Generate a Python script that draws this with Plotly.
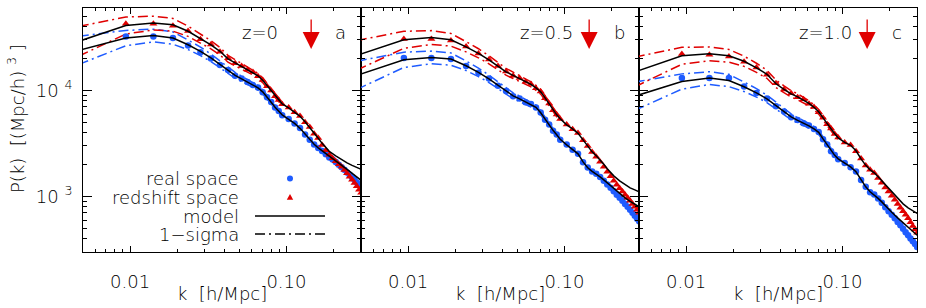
import numpy as np
import plotly.graph_objects as go

# ---------------- data ----------------
# wavenumbers of the model curves [h/Mpc]
k_model = [0.0047, 0.0094, 0.0141, 0.0188, 0.0235, 0.0282, 0.0329, 0.0376, 0.0423, 0.047,
           0.0517, 0.0564, 0.0611, 0.0658, 0.0705, 0.0752, 0.0799, 0.0846, 0.0893, 0.094,
           0.1034, 0.1128, 0.1222, 0.1316, 0.141, 0.1504, 0.1598, 0.1692, 0.1786, 0.188,
           0.2068, 0.2256, 0.2444, 0.2632, 0.282, 0.3008]
# wavenumbers of the measured points [h/Mpc]
k_pts = [0.0094, 0.0141, 0.0188, 0.0235, 0.0282, 0.0329, 0.0376, 0.0423, 0.047, 0.0517,
         0.0564, 0.0611, 0.0658, 0.0705, 0.0752, 0.0799, 0.0846, 0.0893, 0.094,
         0.1034, 0.1128, 0.1222, 0.1316, 0.141, 0.1504, 0.1598, 0.1692, 0.1786, 0.188,
         0.1974, 0.2068, 0.2162, 0.2256, 0.235, 0.2444, 0.2538, 0.2632, 0.2726, 0.282,
         0.2914, 0.3008]

# ---- panel a : z = 0 ----
a_model_real = [23950, 31220, 33030, 31220, 26990, 23440, 20340, 17670, 15510, 13910,
                12890, 12080, 11320, 10600, 9720, 8722, 7740, 6943, 6366, 5900,
                5350, 4904, 4399, 3862, 3426, 3108, 2881, 2699, 2528, 2421,
                2172, 1970, 1805, 1655, 1534, 1422]
a_model_red = [29130, 41040, 43240, 41680, 36190, 30740, 26990, 23440, 19910, 18260,
               16920, 15850, 14850, 13760, 12480, 11080, 9936, 8913, 8083, 7491,
               6868, 6298, 5710, 5067, 4498, 3948, 3541, 3176, 2881, 2670,
               2421, 2220, 2080, 1970, 1886, 1805]
a_pts_real = [32320, 32320, 31220, 26600, 23000, 20000, 17400, 15600, 13800, 12950,
              12000, 11250, 10650, 9650, 8650, 7800, 6900, 6400, 5850,
              5380, 4880, 4420, 3840, 3440, 3090, 2870, 2690, 2510, 2340,
              2230, 2120, 2000, 1890, 1786, 1690, 1602, 1520, 1438, 1360,
              1290, 1220]
a_pts_red = [42590, 42590, 40780, 36500, 30500, 27200, 23200, 20100, 18100, 17000,
             15700, 14950, 13650, 12550, 11000, 10000, 8850, 8150, 7420,
             6900, 6250, 5750, 5030, 4520, 3920, 3560, 3070, 2730, 2480,
             2303, 2150, 2021, 1910, 1778, 1655, 1541, 1438, 1341, 1248,
             1162, 1084]

# ---- panel b : z = 0.5 ----
b_model_real = [13910, 19490, 20490, 19790, 17110, 14850, 12890, 11200, 9829, 8913,
                8350, 7824, 7412, 6943, 6162, 5350, 4747, 4212, 3820, 3464,
                3074, 2788, 2528, 2125, 1866, 1729, 1638, 1534, 1438, 1347,
                1182, 1060, 972, 901, 844, 800]
b_model_red = [21480, 30080, 31620, 30080, 25840, 22440, 19490, 17110, 15010, 13910,
               13030, 12210, 11440, 10600, 9720, 8535, 7491, 6577, 5900, 5409,
               4747, 4352, 3948, 3426, 2975, 2641, 2421, 2220, 2013, 1826,
               1568, 1407, 1290, 1208, 1157, 1108]
b_pts_real = [20220, 20220, 19790, 17000, 14700, 12950, 11100, 9900, 8850, 8400,
              7750, 7450, 6900, 6200, 5300, 4780, 4180, 3840, 3440,
              3090, 2770, 2540, 2110, 1875, 1720, 1645, 1530, 1410, 1300,
              1208, 1120, 1042, 972, 911, 853, 800, 749, 702, 658,
              619, 584]
b_pts_red = [30540, 30540, 29630, 26000, 22300, 19600, 17000, 15100, 13800, 13100,
             12100, 11500, 10500, 9800, 8450, 7550, 6500, 5950, 5380,
             4780, 4320, 3970, 3400, 2990, 2630, 2370, 2130, 1910, 1710,
             1551, 1410, 1295, 1195, 1113, 1038, 972, 911, 853, 800,
             749, 702]

# ---- panel c : z = 1.0 ----
c_model_real = [8837, 12160, 13090, 12430, 10840, 9513, 8350, 7174, 6298, 5648,
                5235, 4958, 4645, 4352, 4035, 3502, 3074, 2699, 2448, 2268,
                2057, 1906, 1711, 1438, 1234, 1108, 1038, 962, 891, 817,
                710, 630, 565, 512, 470, 431]
c_model_red = [14950, 21250, 22200, 21250, 18860, 16380, 14220, 11570, 10270, 9310,
               8722, 8172, 7574, 6943, 6298, 5527, 4851, 4352, 3904, 3578,
               3247, 3042, 2699, 2268, 1970, 1786, 1673, 1534, 1407, 1290,
               1096, 951, 853, 782, 733, 694]
c_pts_real = [13090, 13090, 13090, 10900, 9450, 8400, 7100, 6350, 5600, 5260,
              4920, 4670, 4330, 4060, 3480, 3090, 2680, 2460, 2250,
              2070, 1890, 1720, 1430, 1240, 1100, 1045, 958, 872, 791,
              728, 672, 623, 577, 535, 496, 461, 431, 403, 378,
              356, 335]
c_pts_red = [22050, 21720, 20930, 18700, 16500, 14100, 11700, 10200, 9400, 8650,
             8250, 7500, 7000, 6250, 5550, 4800, 4380, 3880, 3600,
             3230, 3060, 2680, 2280, 1960, 1790, 1670, 1500, 1350, 1220,
             1113, 1015, 931, 853, 786, 725, 672, 623, 573, 529,
             490, 455]

# 1-sigma half-width (dex) of the mock scatter, for the first 20 model k values
sigma_real = [0.133, 0.072, 0.060, 0.058, 0.045, 0.040, 0.035, 0.032, 0.030, 0.028,
              0.026, 0.024, 0.022, 0.021, 0.020, 0.019, 0.018, 0.017, 0.016, 0.015]
sigma_red = [0.140, 0.080, 0.065, 0.060, 0.048, 0.043, 0.038, 0.035, 0.032, 0.030,
             0.028, 0.026, 0.024, 0.023, 0.022, 0.021, 0.020, 0.019, 0.018, 0.017]

z_labels = ["z=0", "z=0.5", "z=1.0"]
panel_letters = ["a", "b", "c"]
k_arrow = 0.144

x_tickvals = [0.01, 0.1]
x_ticktext = ["0.01", "0.10"]
y_tickvals = [1000, 10000]
y_ticktext = ["10 <sup>3</sup>", "10 <sup>4</sup>"]

# ---------------- styling ----------------
W, H = 926, 308
BLUE = "#1f5cff"
RED = "#e00000"
TXT = "#000000"
FONT = "DejaVu Sans"
FS = 18
FW = 300
DASHDOT = "10px,4px,2px,4px"

panels = [
    (a_model_real, a_model_red, a_pts_real, a_pts_red),
    (b_model_real, b_model_red, b_pts_real, b_pts_red),
    (c_model_real, c_model_red, c_pts_real, c_pts_red),
]

left_px = [83, 361, 639]
right_px = [361, 639, 917]
top_px, bot_px = 8, 252
ydom = [1 - bot_px / H, 1 - top_px / H]


def tfont(size=FS):
    return dict(family=FONT, size=size, color=TXT, weight=FW)


fig = go.Figure()

ns = len(sigma_real)
for i, (m_real, m_red, p_real, p_red) in enumerate(panels):
    xa = "x" if i == 0 else f"x{i+1}"
    ya = "y" if i == 0 else f"y{i+1}"
    ks = k_model[:ns]
    mr = np.array(m_real[:ns], float)
    md = np.array(m_red[:ns], float)
    sr = np.array(sigma_real)
    sd = np.array(sigma_red)
    for arr, col in [(mr * 10 ** sr, BLUE), (mr * 10 ** (-sr), BLUE),
                     (md * 10 ** sd, RED), (md * 10 ** (-sd), RED)]:
        fig.add_trace(go.Scatter(x=ks, y=arr, mode="lines", xaxis=xa, yaxis=ya,
                                 line=dict(color=col, width=1.5, dash=DASHDOT),
                                 showlegend=False, hoverinfo="skip"))
    fig.add_trace(go.Scatter(x=k_pts, y=p_real, mode="markers", xaxis=xa, yaxis=ya,
                             marker=dict(symbol="circle", size=6.5, color=BLUE, line=dict(width=0)),
                             showlegend=False))
    fig.add_trace(go.Scatter(x=k_pts, y=p_red, mode="markers", xaxis=xa, yaxis=ya,
                             marker=dict(symbol="triangle-up", size=7, color=RED, line=dict(width=0)),
                             showlegend=False))
    for arr in (m_real, m_red):
        fig.add_trace(go.Scatter(x=k_model, y=arr, mode="lines", xaxis=xa, yaxis=ya,
                                 line=dict(color="black", width=1.5),
                                 showlegend=False))

x_minor = [0.006, 0.007, 0.008, 0.009, 0.02, 0.03, 0.04, 0.05, 0.06, 0.07, 0.08, 0.09, 0.2, 0.3]
y_minor = [300, 400, 500, 600, 700, 800, 900, 2000, 3000, 4000, 5000, 6000, 7000, 8000, 9000,
           20000, 30000, 40000, 50000, 60000]

layout = dict(
    width=W, height=H, margin=dict(l=0, r=0, t=0, b=0),
    paper_bgcolor="white", plot_bgcolor="white",
    font=tfont(),
    showlegend=False,
)

for i in range(3):
    sx = "" if i == 0 else str(i + 1)
    layout["xaxis" + sx] = dict(
        type="log", range=[np.log10(0.005), np.log10(0.3)],
        domain=[left_px[i] / W, right_px[i] / W], anchor="y" + sx,
        showline=True, linecolor="black", linewidth=1, mirror="allticks",
        ticks="inside", ticklen=6, tickwidth=1, tickcolor="black",
        tickmode="array", tickvals=x_tickvals, ticktext=x_ticktext,
        minor=dict(ticks="inside", ticklen=3, tickwidth=1, tickcolor="black",
                   tickmode="array", tickvals=x_minor, showgrid=False),
        showgrid=False, zeroline=False, ticklabelstandoff=13,
        tickfont=tfont(),
    )
    layout["yaxis" + sx] = dict(
        type="log", range=[np.log10(300), np.log10(60000)],
        domain=ydom, anchor="x" + sx,
        showline=True, linecolor="black", linewidth=1, mirror="allticks",
        ticks="inside", ticklen=9, tickwidth=1, tickcolor="black",
        tickmode="array", tickvals=y_tickvals, ticktext=y_ticktext,
        minor=dict(ticks="inside", ticklen=4, tickwidth=1, tickcolor="black",
                   tickmode="array", tickvals=y_minor, showgrid=False),
        showgrid=False, zeroline=False, showticklabels=(i == 0),
        ticklabelstandoff=6,
        tickfont=tfont(),
    )

annotations = []
shapes = []
for i in range(3):
    sx = "" if i == 0 else str(i + 1)
    cx = (left_px[i] + right_px[i]) / 2
    annotations.append(dict(text="k  [h/Mpc]", xref="paper", yref="paper",
                            x=cx / W, y=1 - 293 / H, xanchor="center", yanchor="middle",
                            showarrow=False, font=tfont()))
    zc = [260, 546, 825][i]
    annotations.append(dict(text=z_labels[i], xref="paper", yref="paper",
                            x=zc / W, y=1 - 33 / H, xanchor="center", yanchor="middle",
                            showarrow=False, font=tfont()))
    lc = [340, 619, 897][i]
    annotations.append(dict(text=panel_letters[i], xref="paper", yref="paper",
                            x=lc / W, y=1 - 33 / H, xanchor="center", yanchor="middle",
                            showarrow=False, font=tfont()))
    annotations.append(dict(text="", xref="x" + sx, yref="paper",
                            x=np.log10(k_arrow), y=1 - 49 / H,
                            ax=0, ay=-31, showarrow=True, arrowhead=2, arrowsize=2.6,
                            arrowwidth=1.3, arrowcolor=RED))

annotations.append(dict(text="P(k)  [(Mpc/h) <sup>3</sup> ]", xref="paper", yref="paper",
                        x=16 / W, y=1 - 119 / H, xanchor="center", yanchor="middle",
                        textangle=-90, showarrow=False, font=tfont()))

leg_rows = [("real space", 178.5), ("redshift space", 197), ("model", 216), ("1\u2212sigma", 234)]
for txt, yy in leg_rows:
    annotations.append(dict(text=txt, xref="paper", yref="paper", x=241 / W, y=1 - yy / H,
                            xanchor="right", yanchor="middle", showarrow=False,
                            font=tfont()))

# legend symbols
sx0 = 290
shapes.append(dict(type="circle", xref="paper", yref="paper",
                   x0=(sx0 - 3) / W, x1=(sx0 + 3) / W, y0=1 - 181.5 / H, y1=1 - 175.5 / H,
                   fillcolor=BLUE, line=dict(width=0)))
ty = 197
shapes.append(dict(type="path", xref="paper", yref="paper",
                   path=f"M {(sx0-3.2)/W},{1-(ty+2.8)/H} L {(sx0+3.2)/W},{1-(ty+2.8)/H} L {sx0/W},{1-(ty-3)/H} Z",
                   fillcolor=RED, line=dict(width=0)))
shapes.append(dict(type="line", xref="paper", yref="paper",
                   x0=255 / W, x1=325 / W, y0=1 - 216 / H, y1=1 - 216 / H,
                   line=dict(color="black", width=1.5)))
shapes.append(dict(type="line", xref="paper", yref="paper",
                   x0=255 / W, x1=325 / W, y0=1 - 234 / H, y1=1 - 234 / H,
                   line=dict(color="black", width=1.5, dash=DASHDOT)))

layout["annotations"] = annotations
layout["shapes"] = shapes
fig.update_layout(**layout)

fig.write_html("out.html", config={"displayModeBar": False},
               post_script="document.body.style.margin='0px';document.body.style.padding='0px';")
